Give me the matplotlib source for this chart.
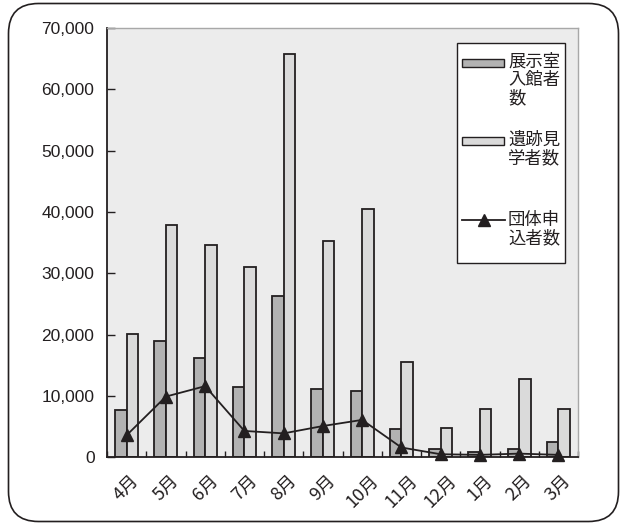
import matplotlib
matplotlib.use("Agg")
import matplotlib.pyplot as plt
import numpy as np
from matplotlib.patches import FancyBboxPatch, Rectangle
from matplotlib.lines import Line2D
from matplotlib.ticker import FuncFormatter, MultipleLocator

# Monthly visitor counts
months = ["4月", "5月", "6月", "7月", "8月", "9月", "10月", "11月", "12月", "1月", "2月", "3月"]
exhibit_visitors = [7700, 18900, 16200, 11400, 26300, 11100, 10800, 4600, 1400, 800, 1300, 2500]
site_visitors = [20100, 37800, 34600, 31100, 65700, 35300, 40500, 15600, 4800, 7900, 12700, 7800]
group_applicants = [3600, 9900, 11600, 4300, 3900, 5100, 6100, 1600, 500, 400, 600, 400]

series_labels = ["展示室\n入館者\n数", "遺跡見\n学者数", "団体申\n込者数"]

INK = "#231f20"
DARK = "#b2b2b2"
LIGHT = "#dadada"
PANEL = "#ececec"
CJK = ["Noto Sans CJK JP", "DejaVu Sans"]

W, H = 622, 523
fig = plt.figure(figsize=(W / 100, H / 100), dpi=100)
fig.patch.set_facecolor("white")

# rounded outer frame (pixel coordinates)
frame = FancyBboxPatch((8.5, 1.5), 610, 518, boxstyle="round,pad=0,rounding_size=30",
                       transform=None, facecolor="none", edgecolor=INK, linewidth=1.2)
fig.patches.append(frame)

ax = fig.add_axes([107 / W, 1 - 457.3 / H, (578 - 107) / W, (457.3 - 28) / H])
ax.set_facecolor(PANEL)

x = np.arange(len(months))
bw = 0.293
ax.bar(x - bw / 2, exhibit_visitors, width=bw, color=DARK, edgecolor=INK, linewidth=1.3, zorder=2)
ax.bar(x + bw / 2, site_visitors, width=bw, color=LIGHT, edgecolor=INK, linewidth=1.3, zorder=2)
ax.plot(x, group_applicants, color=INK, linewidth=1.3, marker="^", markersize=8,
        markerfacecolor=INK, markeredgecolor=INK, zorder=3, clip_on=False)

ax.set_xlim(-0.5, len(months) - 0.5)
ax.set_ylim(0, 70000)
ax.yaxis.set_major_locator(MultipleLocator(10000))
ax.yaxis.set_major_formatter(FuncFormatter(lambda v, p: f"{int(v):,}"))

ax.set_xticks(x)
ax.set_xticklabels(months, rotation=45, ha="center", va="top", family=CJK, fontsize=13, color=INK)
ax.set_xticks(np.arange(-0.5, len(months)), minor=True)
ax.tick_params(axis="x", which="major", length=0, pad=10)
ax.tick_params(axis="x", which="minor", direction="in", length=4, width=1, color=INK)
ax.tick_params(axis="y", direction="in", length=6, width=1, color=INK, pad=9,
               labelsize=12.5, labelcolor=INK)
for lab in ax.get_yticklabels():
    lab.set_family(["Liberation Sans", "DejaVu Sans"])

for side in ("left", "bottom"):
    ax.spines[side].set_color(INK)
    ax.spines[side].set_linewidth(1.3)
for side in ("top", "right"):
    ax.spines[side].set_color("#a8a8a8")
    ax.spines[side].set_linewidth(1.0)
ax.spines["bottom"].set_zorder(4)

# legend panel drawn in pixel space
def px(xp, yp):
    return xp, H - yp

leg_box = Rectangle(px(457, 263), 108, 220, transform=None, facecolor="white",
                    edgecolor=INK, linewidth=1.0, zorder=5)
fig.patches.append(leg_box)
fig.patches.append(Rectangle(px(462, 67), 42, 8, transform=None, facecolor=DARK,
                             edgecolor=INK, linewidth=1.0, zorder=6))
fig.patches.append(Rectangle(px(462, 145), 42, 8, transform=None, facecolor=LIGHT,
                             edgecolor=INK, linewidth=1.0, zorder=6))
lx, ly = px(462, 220)
fig.lines.append(Line2D([lx, lx + 43], [ly, ly], transform=None, color=INK, linewidth=1.3, zorder=6))
fig.lines.append(Line2D([lx + 21.5], [ly], transform=None, marker="^", markersize=8,
                        color=INK, zorder=7))
for label, ytop in zip(series_labels, (53, 131, 211)):
    tx, ty = px(508, ytop)
    fig.text(tx / W, ty / H, label, family=CJK, fontsize=12.5, color=INK, ha="left", va="top",
             linespacing=1.0, zorder=8)

fig.savefig("out.png", dpi=100)
